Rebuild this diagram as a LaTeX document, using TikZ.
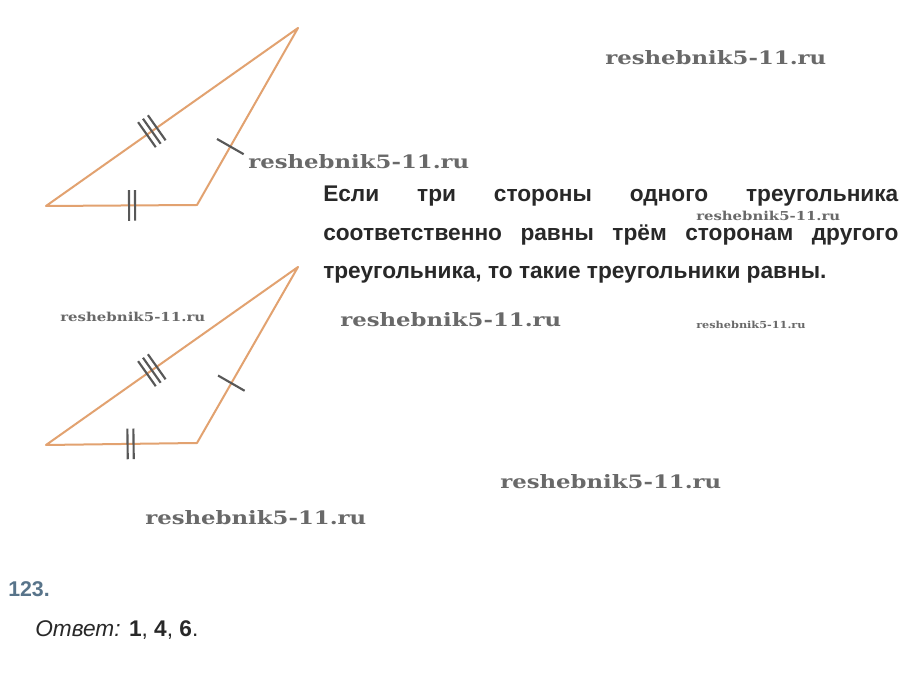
\documentclass[tikz,border=0pt]{standalone}
\usepackage{fontspec}
\usepackage{graphicx}
\setmainfont{Liberation Sans}
\newfontfamily\wmfont{DejaVu Serif}
\usetikzlibrary{calc}

\definecolor{sidecol}{RGB}{226,162,112}
\definecolor{hatchcol}{RGB}{88,88,88}
\definecolor{txtcol}{RGB}{40,40,40}
\definecolor{numcol}{RGB}{88,116,138}
\definecolor{wmcol}{RGB}{105,105,105}

\begin{document}
\begin{tikzpicture}[x=0.75pt, y=-0.75pt,
    side/.style={draw=sidecol, line width=1.5pt, line join=round},
    hatch/.style={draw=hatchcol, line width=1.6pt},
    body/.style={text=txtcol, inner sep=0pt, font=\fontsize{17pt}{20pt}\selectfont\bfseries},
    wmark/.style={text=wmcol, inner sep=0pt, anchor=base west, font=\wmfont\bfseries}]
    %--------------------%
    % Parameters
    %--------------------%
    \def\hlen{11.5pt}
    \def\tsep{4.5pt}
    \def\dsep{2.25pt}
    \def\linew{431.25pt}
    \def\wmtext{reshebnik5-11.ru}

    %--------------------%
    % Canvas
    %--------------------%
    \fill[white] (0,0) rectangle (904,673);
    \useasboundingbox (0,0) rectangle (904,673);

    %--------------------%
    % Triangle 1
    %--------------------%
    \coordinate (A1) at (46,206);
    \coordinate (B1) at (197,205);
    \coordinate (C1) at (298,28);
    \draw[side] (A1) -- (B1) -- (C1) -- cycle;
    % three ticks on AC
    \coordinate (ac1) at ($(A1)!0.42!(C1)$);
    \coordinate (ac1a) at ($(ac1)!-\tsep!(C1)$);
    \coordinate (ac1b) at ($(ac1)!\tsep!(C1)$);
    \foreach \p in {ac1a,ac1,ac1b}
        \draw[hatch] ($(\p)!\hlen!90:(C1)$) -- ($(\p)!\hlen!-90:(C1)$);
    % two ticks on AB
    \coordinate (ab1) at ($(A1)!0.57!(B1)$);
    \coordinate (ab1a) at ($(ab1)!-\dsep!(B1)$);
    \coordinate (ab1b) at ($(ab1)!\dsep!(B1)$);
    \foreach \p in {ab1a,ab1b}
        \draw[hatch] ($(\p)!\hlen!90:(B1)$) -- ($(\p)!\hlen!-90:(B1)$);
    % one tick on BC
    \coordinate (bc1) at ($(B1)!0.33!(C1)$);
    \draw[hatch] ($(bc1)!\hlen!90:(C1)$) -- ($(bc1)!\hlen!-90:(C1)$);

    %--------------------%
    % Triangle 2
    %--------------------%
    \coordinate (A2) at (46,445);
    \coordinate (B2) at (197,443);
    \coordinate (C2) at (298,267);
    \draw[side] (A2) -- (B2) -- (C2) -- cycle;
    % three ticks on AC
    \coordinate (ac2) at ($(A2)!0.42!(C2)$);
    \coordinate (ac2a) at ($(ac2)!-\tsep!(C2)$);
    \coordinate (ac2b) at ($(ac2)!\tsep!(C2)$);
    \foreach \p in {ac2a,ac2,ac2b}
        \draw[hatch] ($(\p)!\hlen!90:(C2)$) -- ($(\p)!\hlen!-90:(C2)$);
    % two ticks on AB
    \coordinate (ab2) at ($(A2)!0.56!(B2)$);
    \coordinate (ab2a) at ($(ab2)!-\dsep!(B2)$);
    \coordinate (ab2b) at ($(ab2)!\dsep!(B2)$);
    \foreach \p in {ab2a,ab2b}
        \draw[hatch] ($(\p)!\hlen!90:(B2)$) -- ($(\p)!\hlen!-90:(B2)$);
    % one tick on BC
    \coordinate (bc2) at ($(B2)!0.34!(C2)$);
    \draw[hatch] ($(bc2)!\hlen!90:(C2)$) -- ($(bc2)!\hlen!-90:(C2)$);

    %--------------------%
    % Watermarks
    %--------------------%
    \node[wmark] (wm1) at (605,65)  {\resizebox{165.75pt}{10.5pt}{\wmtext}};
    \node[wmark] (wm2) at (248,169) {\resizebox{165.75pt}{10.5pt}{\wmtext}};
    \node[wmark] (wm3) at (696,221) {\resizebox{108pt}{7pt}{\wmtext}};
    \node[wmark] (wm4) at (60,322)  {\resizebox{108.75pt}{7pt}{\wmtext}};
    \node[wmark] (wm5) at (340,327) {\resizebox{165.75pt}{10.5pt}{\wmtext}};
    \node[wmark] (wm6) at (696,329) {\resizebox{82pt}{5.5pt}{\wmtext}};
    \node[wmark] (wm7) at (500,489) {\resizebox{165.75pt}{10.5pt}{\wmtext}};
    \node[wmark] (wm8) at (145,525) {\resizebox{165.75pt}{10.5pt}{\wmtext}};

    %--------------------%
    % Theorem text
    %--------------------%
    \node[body, anchor=base west] (line1) at (323,202)
        {\makebox[\linew][s]{Если три стороны одного треугольника}};
    \node[body, anchor=base west] (line2) at (323,240.5)
        {\makebox[\linew][s]{соответственно равны трём сторонам другого}};
    \node[body, anchor=base west] (line3) at (323,279)
        {треугольника, то такие треугольники равны.};

    %--------------------%
    % Answer
    %--------------------%
    \node[body, anchor=base west, text=numcol, font=\fontsize{16pt}{19pt}\selectfont\bfseries] (num) at (8,596) {123.};
    \node[body, anchor=base west, font=\fontsize{17pt}{20pt}\selectfont] (answer) at (35,637)
        {\textit{Ответ:} \textbf{1}, \textbf{4}, \textbf{6}.};
\end{tikzpicture}
\end{document}
